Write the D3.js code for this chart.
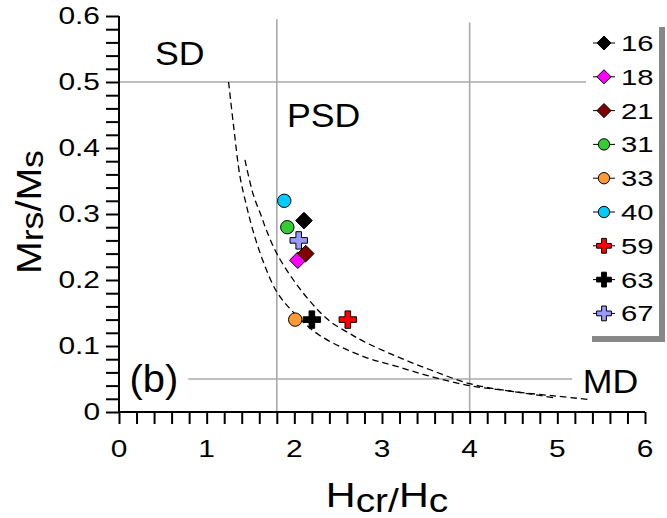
<!DOCTYPE html>
<html><head><meta charset="utf-8">
<script src="https://cdn.jsdelivr.net/npm/d3@7"></script>
<style>
html,body{margin:0;padding:0;background:#fff;}
text{font-family:"Liberation Sans",Arial,sans-serif;fill:#000;}
</style></head>
<body>
<svg id="chart" width="667" height="518"></svg>
<script>
// ---- data ----
const samples = ["16","18","21","31","33","40","59","63","67"];
const hcrHc   = [2.11, 2.04, 2.13, 1.92, 2.01, 1.885, 2.61, 2.20, 2.05];
const mrsMs   = [0.29, 0.23, 0.24, 0.28, 0.14, 0.32, 0.14, 0.14, 0.26];
const shapes  = ["diamond","diamond","diamond","circle","circle","circle","plus","plus","plus"];
const colors  = ["#000000","#ff00ff","#800000","#33cc33","#ff9933","#00ccff","#ff0000","#000000","#9999ff"];

const xTicks = [0,1,2,3,4,5,6];
const yTicks = [0,0.1,0.2,0.3,0.4,0.5,0.6];
const yTickLabels = ["0","0.1","0.2","0.3","0.4","0.5","0.6"];

// SD+MD mixing curves
const curveAx = [1.25,1.31,1.38,1.45,1.53,1.645,1.80,1.99,2.29,2.79,3.17,3.55,4.00,4.50,4.99];
const curveAy = [0.50,0.43,0.357,0.315,0.274,0.228,0.182,0.151,0.116,0.084,0.069,0.054,0.040,0.031,0.021];
const curveBx = [1.437,1.53,1.62,1.68,1.80,1.99,2.21,2.41,2.63,2.79,3.17,3.55,4.00,4.50,5.00,5.35];
const curveBy = [0.382,0.33,0.298,0.276,0.24,0.20,0.163,0.137,0.119,0.107,0.084,0.064,0.043,0.031,0.024,0.019];

// Day-plot boundaries
const boundX = [1.8, 4.0];
const boundY = [0.5, 0.05];
const regions = ["SD","PSD","MD","(b)"];

// ---- chart ----
const svg = d3.select("#chart");
const x = d3.scaleLinear().domain([0,6]).range([119,645]);
const y = d3.scaleLinear().domain([0,0.6]).range([412,16]);

// boundaries (grey)
const grey = "#aaaaaa";
svg.append("line").attr("x1",x(boundX[0])).attr("x2",x(boundX[0])).attr("y1",y(0.595)).attr("y2",y(0))
  .attr("stroke",grey).attr("stroke-width",1.6);
svg.append("line").attr("x1",x(boundX[1])).attr("x2",x(boundX[1])).attr("y1",y(0.59)).attr("y2",y(0))
  .attr("stroke",grey).attr("stroke-width",1.6);
svg.append("line").attr("x1",x(0)).attr("x2",x(5.33)).attr("y1",y(boundY[0])).attr("y2",y(boundY[0]))
  .attr("stroke",grey).attr("stroke-width",1.6);
svg.append("line").attr("x1",x(0.79)).attr("x2",x(5.17)).attr("y1",y(boundY[1])).attr("y2",y(boundY[1]))
  .attr("stroke",grey).attr("stroke-width",1.6);

// curves
const line = d3.line().x(d=>x(d[0])).y(d=>y(d[1])).curve(d3.curveCatmullRom.alpha(0.5));
[[curveAx,curveAy],[curveBx,curveBy]].forEach(([cx,cy])=>{
  svg.append("path").datum(cx.map((v,i)=>[v,cy[i]]))
    .attr("d",line).attr("fill","none").attr("stroke","#000")
    .attr("stroke-width",1.3).attr("stroke-dasharray","6.5,4");
});

// axes
const xAxis = d3.axisBottom(x).tickValues(d3.range(0,6.001,0.2)).tickSize(12).tickFormat("");
const yAxis = d3.axisLeft(y).tickValues(d3.range(0,0.6001,0.02)).tickSize(13).tickFormat("");
const gx = svg.append("g").attr("transform",`translate(0,${y(0)})`).call(xAxis);
const gy = svg.append("g").attr("transform",`translate(${x(0)},0)`).call(yAxis);
[gx,gy].forEach(g=>{
  g.select(".domain").attr("stroke","#000").attr("stroke-width",2);
  g.selectAll(".tick line").attr("stroke","#000").attr("stroke-width",2);
});
gx.select(".domain").attr("d",`M${x(0)},0H${x(6)}`);
gy.select(".domain").attr("d",`M0,${y(0)}V${y(0.6)}`);

const digitStretch = 1.3;
function stretchedText(parent, tx, ty, str, size, anchor, sx){
  return parent.append("text")
    .attr("transform",`translate(${tx},${ty}) scale(${sx},1)`)
    .attr("text-anchor",anchor).attr("font-size",size).text(str);
}
xTicks.forEach(t=>stretchedText(svg, x(t), 456.5, String(t), 23, "middle", digitStretch));
yTicks.forEach((t,i)=>stretchedText(svg, 100, y(t)+8.3, yTickLabels[i], 23, "end", digitStretch));

// axis titles
const xt = svg.append("text").attr("transform","translate(387,506.5) scale(1.18,1)")
  .attr("text-anchor","middle").attr("font-size",35);
xt.append("tspan").text("H");
xt.append("tspan").attr("dy",5).attr("font-size",33).text("cr/");
xt.append("tspan").attr("dy",-5).text("H");
xt.append("tspan").attr("dy",5).attr("font-size",33).text("c");

const yt = svg.append("text").attr("transform","translate(41,212) rotate(-90) scale(1.12,1)")
  .attr("text-anchor","middle").attr("font-size",35);
yt.append("tspan").text("M");
yt.append("tspan").attr("dy",2).attr("font-size",32).text("rs");
yt.append("tspan").attr("dy",-2).text("/M");
yt.append("tspan").attr("dy",2).attr("font-size",32).text("s");

// region labels
const regPos = [[0.41,0.526],[1.915,0.432],[5.29,0.029],[0.12,0.031]];
const regSize = [34,34,34,38];
regions.forEach((r,i)=>{
  stretchedText(svg, x(regPos[i][0]), y(regPos[i][1]), r, regSize[i], "start", 1.05);
});

// marker shapes
function plusPath(L,t){
  return `M${-t},${-L}H${t}V${-t}H${L}V${t}H${t}V${L}H${-t}V${t}H${-L}V${-t}H${-t}Z`;
}
function drawMarker(g, shape, color, cx, cy, sc){
  if(shape==="circle"){
    g.append("circle").attr("cx",cx).attr("cy",cy).attr("r",6.7*sc)
      .attr("fill",color).attr("stroke","#000").attr("stroke-width",1);
  } else if(shape==="diamond"){
    const h=8.3*sc;
    g.append("path").attr("d",`M${cx},${cy-h}L${cx+h},${cy}L${cx},${cy+h}L${cx-h},${cy}Z`)
      .attr("fill",color).attr("stroke","#000").attr("stroke-width",1);
  } else {
    g.append("path").attr("d",plusPath(8.7*sc,2.8*sc)).attr("transform",`translate(${cx},${cy})`)
      .attr("fill",color).attr("stroke","#000").attr("stroke-width",1);
  }
}
const pts = svg.append("g");
samples.forEach((s,i)=>drawMarker(pts, shapes[i], colors[i], x(hcrHc[i]), y(mrsMs[i]), 1));

// legend
const lg = svg.append("g");
lg.append("rect").attr("x",659).attr("y",27).attr("width",6).attr("height",315).attr("fill","#888");
lg.append("rect").attr("x",592).attr("y",336).attr("width",73).attr("height",6).attr("fill","#888");
lg.append("rect").attr("x",586).attr("y",21).attr("width",73).attr("height",315).attr("fill","#fff");
samples.forEach((s,i)=>{
  const cy = 43 + i*33.8;
  lg.append("line").attr("x1",593).attr("x2",615).attr("y1",cy).attr("y2",cy).attr("stroke","#000").attr("stroke-width",1);
  drawMarker(lg, shapes[i], colors[i], 604, cy, 0.85);
  stretchedText(lg, 621, cy+8, s, 22.5, "start", digitStretch);
});
</script>
</body></html>
